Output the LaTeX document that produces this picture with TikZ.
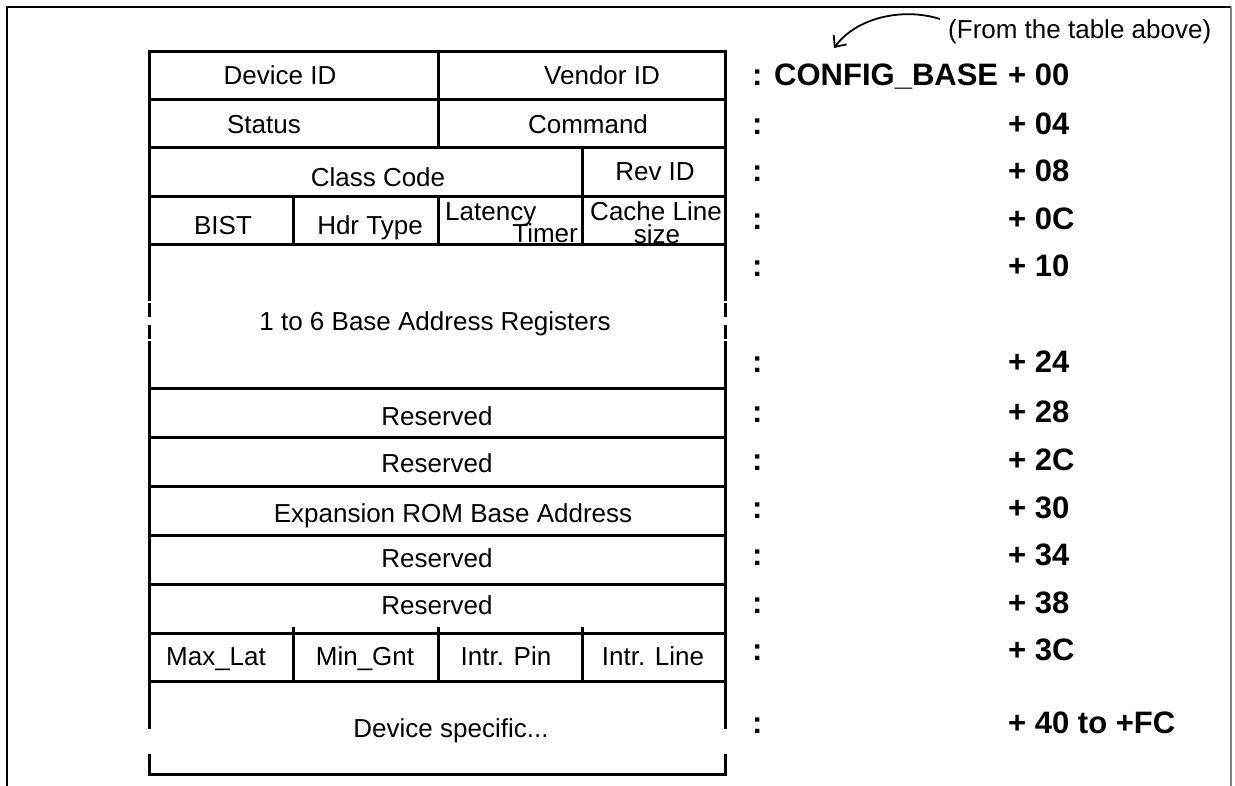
\documentclass[tikz,border=0pt]{standalone}
\usepackage{fontspec}
\setmainfont{Liberation Sans}
\usetikzlibrary{arrows.meta}
\begin{document}
\begin{tikzpicture}[x=1pt,y=-1pt,
  rule/.style={line width=3pt, line cap=rect},
  cell/.style={inner sep=0pt, anchor=base, font=\fontsize{26}{22}\selectfont},
  offs/.style={inner sep=0pt, anchor=base west, font=\fontsize{31}{34}\selectfont\bfseries},
]
\useasboundingbox (0,0) rectangle (1235,786);

% page frame, open at the bottom
\draw[line width=2.8pt] (7,786) -- (7,7) -- (1231,7);
\draw[line width=1.4pt, black!50] (1231,7) -- (1231,786);

% horizontal register rules
\foreach \y in {52,100,148,197,245,389,437,486,535,584,633,681,774}
  \draw[rule] (149,\y) -- (725,\y);

% outer sides, broken where the register ranges are elided
\foreach \x in {149,725} {
  \draw[rule] (\x,52) -- (\x,300);
  \draw[rule] (\x,305) -- (\x,316);
  \draw[rule] (\x,327) -- (\x,338);
  \draw[rule] (\x,343) -- (\x,727);
  \draw[rule] (\x,755) -- (\x,774);
}

% field dividers
\draw[rule] (438,52) -- (438,148);
\draw[rule] (582,148) -- (582,245);
\foreach \x in {293,438} \draw[rule] (\x,197) -- (\x,245);
\foreach \x in {293,438,582} \draw[rule] (\x,628) -- (\x,681);

% field names
\node[cell] (devid)   at (280,85)  {Device ID};
\node[cell] (vendid)  at (602,85)  {Vendor ID};
\node[cell] (status)  at (264,134) {Status};
\node[cell] (command) at (588,134) {Command};
\node[cell] (class)   at (378,187) {Class Code};
\node[cell] (revid)   at (655,181) {Rev ID};
\node[cell] (bist)    at (223,235) {BIST};
\node[cell] (hdr)     at (370,235) {Hdr Type};
\node[cell, anchor=base west] (lat)   at (445,221) {Latency};
\node[cell, anchor=base east] (timer) at (578,243) {Timer};
\node[cell] (cache)   at (656,221) {Cache Line};
\node[cell] (csize)   at (657,244) {size};
\node[cell] (bar)     at (435,331) {1 to 6 Base Address Registers};
\node[cell] (res1)    at (437,425) {Reserved};
\node[cell] (res2)    at (437,472) {Reserved};
\node[cell] (rom)     at (453,522) {Expansion ROM Base Address};
\node[cell] (res3)    at (437,567) {Reserved};
\node[cell] (res4)    at (437,614) {Reserved};
\node[cell] (maxlat)  at (216,665) {Max\_Lat};
\node[cell] (mingnt)  at (365,665) {Min\_Gnt};
\node[cell] (ipin)    at (506,665) {Intr. Pin};
\node[cell] (iline)   at (653,665) {Intr. Line};
\node[cell] (devspec) at (451,737) {Device specific...};

% offsets from the configuration base
\node[offs] (c00) at (752,86)  {:};
\node[offs] (cfgbase) at (774,86) {CONFIG\_BASE};
\node[offs] (o00) at (1008,86)  {+ 00};
\foreach \y/\t [count=\i] in {135/04,182/08,230/0C,277/10,373/24,422/28,470/2C,518/30,565/34,613/38,660/3C} {
  \node[offs] (c\i) at (752,\y) {:};
  \node[offs] (o\i) at (1008,\y) {+ \t};
}
\node[offs] (cfc) at (752,733) {:};
\node[offs] (ofc) at (1008,733) {+ 40 to +FC};

% note and pointer to the base symbol
\node[cell, anchor=base west] (note) at (948,39) {(From the table above)};
\coordinate (tail) at (940,19);
\coordinate (tip) at (834,48);
\draw[line width=1.8pt, -{Straight Barb[length=9pt,width=16pt]}]
  (tail) .. controls (902,7) and (856,18) .. (tip);
\end{tikzpicture}
\end{document}
